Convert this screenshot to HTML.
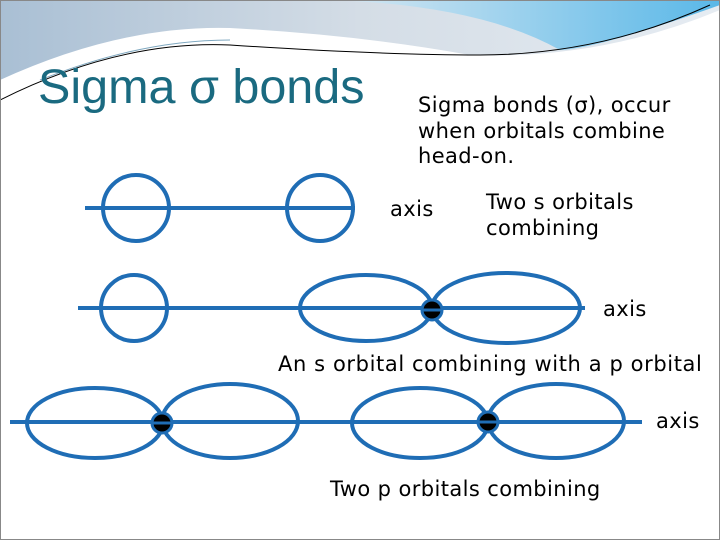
<!DOCTYPE html>
<html><head><style>
body{margin:0;width:720px;height:540px;overflow:hidden;background:#fff;font-family:"DejaVu Sans",sans-serif}
.t{position:absolute;color:#000;font-size:21px;white-space:nowrap;letter-spacing:0.4px}
</style></head><body>
<svg width="720" height="540" style="position:absolute;left:0;top:0">
<defs>
<linearGradient id="g" x1="0" y1="0" x2="1" y2="0"><stop offset="0" stop-color="#a9bfd4"/><stop offset="0.5" stop-color="#d4dde6"/><stop offset="1" stop-color="#e6ecf2"/></linearGradient>
<linearGradient id="b" x1="0" y1="0" x2="1" y2="0"><stop offset="0" stop-color="#d8e8f2"/><stop offset="1" stop-color="#5ab8e8"/></linearGradient>
</defs>
<rect x="0" y="0" width="720" height="80" fill="url(#g)"/>
<path d="M330 0 Q480 5 560 50 Q600 48 720 5 L720 0 Z" fill="url(#b)"/>
<path d="M0 80 Q120 25 230 28 Q360 35 470 55 Q600 60 720 10 L720 80 Z" fill="#fff"/>
<path d="M0 100 Q120 40 230 45 Q380 55 480 55 Q600 55 710 5" fill="none" stroke="#000" stroke-width="1"/>
<path d="M40 80 Q140 40 230 40" fill="none" stroke="#7fa8c0" stroke-width="1"/>
<rect x="0" y="0" width="720" height="540" fill="none" stroke="#888" stroke-width="2"/>
<g fill="none" stroke="#1f6db5" stroke-width="4">
<line x1="85" y1="208" x2="355" y2="208"/>
<circle cx="136" cy="208" r="33"/><circle cx="320" cy="208" r="33"/>
<line x1="78" y1="308" x2="585" y2="308"/>
<circle cx="134" cy="308" r="33"/>
<ellipse cx="366" cy="308" rx="66" ry="33"/>
<ellipse cx="506" cy="308" rx="74" ry="35"/>
<line x1="10" y1="422" x2="642" y2="422"/>
<ellipse cx="95" cy="423" rx="68" ry="35"/>
<ellipse cx="230" cy="421" rx="68" ry="37"/>
<ellipse cx="420" cy="423" rx="68" ry="35"/>
<ellipse cx="556" cy="421" rx="68" ry="37"/>
</g>
<g fill="#000" stroke="#1f6db5" stroke-width="3">
<circle cx="432" cy="310" r="10"/><circle cx="162" cy="423" r="10"/><circle cx="488" cy="422" r="10"/>
</g>
<g stroke="#1f6db5" stroke-width="3"><line x1="422" y1="310" x2="442" y2="310"/><line x1="152" y1="423" x2="172" y2="423"/><line x1="478" y1="422" x2="498" y2="422"/></g>
</svg>
<div class="t" style="left:38px;top:59px;font-size:48.5px;color:#1a6a80;font-family:'Liberation Sans',sans-serif;letter-spacing:0">Sigma σ bonds</div>
<div class="t" style="left:418px;top:93px;line-height:25.5px">Sigma bonds (σ), occur<br>when orbitals combine<br>head-on.</div>
<div class="t" style="left:390px;top:197px">axis</div>
<div class="t" style="left:486px;top:189px;line-height:26px">Two s orbitals<br>combining</div>
<div class="t" style="left:603px;top:297px">axis</div>
<div class="t" style="left:278px;top:352px;letter-spacing:0.6px">An s orbital combining with a p orbital</div>
<div class="t" style="left:656px;top:409px">axis</div>
<div class="t" style="left:330px;top:477px">Two p orbitals combining</div>
</body></html>
